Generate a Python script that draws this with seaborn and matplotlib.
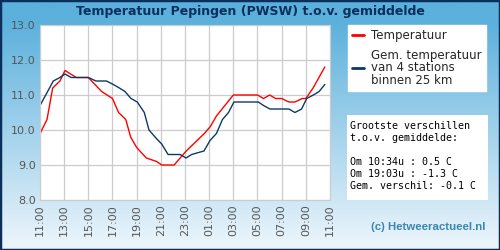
import matplotlib
matplotlib.use("Agg")
import matplotlib.pyplot as plt
import seaborn as sns
import numpy as np
import pandas as pd
from matplotlib.patches import Rectangle

# data (hours after 11:00)
temp_hours = [0, 0.58, 1.05, 1.65, 2.07, 3.0, 4.0, 5.1, 6.0, 6.5, 7.1, 7.5, 8.0, 8.8,
              9.65, 10.07, 11.1, 12.1, 13.0, 13.6, 14.1, 14.6, 16.0, 18.0, 18.5, 19.0,
              19.5, 20.0, 20.6, 21.1, 21.7, 22.0, 22.6, 23.57]
temp_values = [9.9, 10.3, 11.2, 11.4, 11.7, 11.5, 11.5, 11.1, 10.9, 10.5, 10.3, 9.8, 9.5, 9.2,
               9.1, 9.0, 9.0, 9.4, 9.7, 9.9, 10.1, 10.4, 11.0, 11.0, 10.9, 11.0,
               10.9, 10.9, 10.8, 10.8, 10.9, 10.9, 11.2, 11.8]

avg_hours = [0, 0.63, 1.1, 1.65, 2.07, 2.57, 4.0, 4.63, 5.5, 6.07, 6.57, 7.03, 7.53, 8.05,
             8.63, 9.02, 9.65, 10.07, 10.6, 11.6, 12.08, 12.55, 13.05, 13.57, 14.07, 14.6,
             15.1, 15.6, 16.05, 18.07, 18.5, 19.03, 20.6, 21.1, 21.65, 22.07, 22.62, 23.1, 23.57]
avg_values = [10.7, 11.1, 11.4, 11.5, 11.6, 11.5, 11.5, 11.4, 11.4, 11.3, 11.2, 11.1, 10.9, 10.8,
              10.5, 10.0, 9.75, 9.6, 9.3, 9.3, 9.2, 9.3, 9.35, 9.4, 9.7, 9.9,
              10.3, 10.5, 10.8, 10.8, 10.7, 10.6, 10.6, 10.5, 10.6, 10.9, 11.0, 11.1, 11.3]

tick_labels = ['11:00', '13:00', '15:00', '17:00', '19:00', '21:00', '23:00',
               '01:00', '03:00', '05:00', '07:00', '09:00', '11:00']

stats_lines = ['Grootste verschillen', 't.o.v. gemiddelde:', '',
               'Om 10:34u : 0.5 C', 'Om 19:03u : -1.3 C', 'Gem. verschil: -0.1 C']

sns.set_style("white")
plt.rcParams['font.family'] = ['DejaVu Sans']

fig = plt.figure(figsize=(5, 2.5), dpi=100)

# gradient background
bg = fig.add_axes([0, 0, 1, 1], zorder=0)
grad = np.linspace(0, 1, 256).reshape(-1, 1)
top = np.array([0x5b, 0xb0, 0xdc]) / 255
bottom = np.array([0xee, 0xf6, 0xfc]) / 255
shade = np.clip((grad - 0.08) / 0.92, 0, 1)
img = top + (bottom - top) * shade[..., None]
bg.imshow(img.reshape(256, 1, 3), aspect='auto', extent=[0, 1, 0, 1])
bg.add_patch(Rectangle((0, 0), 1, 1, fill=False, edgecolor='#0b2f5c', linewidth=2.5,
                       transform=bg.transAxes))
bg.set_xlim(0, 1)
bg.set_ylim(0, 1)
bg.axis('off')

ax = fig.add_axes([0.08, 0.2, 0.58, 0.7], zorder=1)
df_temp = pd.DataFrame({'uur': temp_hours, 'temp': temp_values})
df_avg = pd.DataFrame({'uur': avg_hours, 'temp': avg_values})
sns.lineplot(data=df_temp, x='uur', y='temp', ax=ax, color='#ff0000', linewidth=1,
             label='Temperatuur')
sns.lineplot(data=df_avg, x='uur', y='temp', ax=ax, color='#0b3a66', linewidth=1,
             label='Gem. temperatuur\nvan 4 stations\nbinnen 25 km')

ax.set_facecolor('white')
ax.set_xlim(0, 24)
ax.set_ylim(8, 13)
ax.set_xticks(np.arange(0, 25, 2))
ax.set_xticklabels(tick_labels, rotation=90)
ax.set_yticks(np.arange(8, 13.5, 1))
ax.set_yticklabels([f'{v:.1f}' for v in np.arange(8, 13.5, 1)])
ax.tick_params(axis='both', labelsize=8, colors='#555555', length=0, pad=3)
ax.grid(True, color='#cccccc', linewidth=0.9)
for s in ax.spines.values():
    s.set_color('#cccccc')
ax.set_xlabel('')
ax.set_ylabel('')

handles, labels = ax.get_legend_handles_labels()
ax.get_legend().remove()
leg = fig.legend(handles, labels, loc='upper left', bbox_to_anchor=(0.696, 0.9),
                 fontsize=8.5, frameon=True, fancybox=False, handlelength=1.0,
                 handletextpad=0.6, borderpad=0.35, labelspacing=0.55, borderaxespad=0)
leg.get_frame().set_facecolor('white')
leg.get_frame().set_edgecolor('white')
leg.get_frame().set_alpha(1)
for t in leg.get_texts():
    t.set_linespacing(0.95)
for h in leg.get_lines():
    h.set_linewidth(2)

fig.text(0.5, 0.952, 'Temperatuur Pepingen (PWSW) t.o.v. gemiddelde', ha='center',
         va='center', fontsize=9, fontweight='bold', color='#0b2f5c')

fig.patches.append(Rectangle((0.694, 0.2), 0.282, 0.34, transform=fig.transFigure,
                             facecolor='white', edgecolor='none', zorder=2))
fig.text(0.7, 0.515, '\n'.join(stats_lines), ha='left', va='top', fontsize=7.2,
         family='DejaVu Sans Mono', color='black', linespacing=1.25, zorder=3)

fig.text(0.856, 0.092, '(c) Hetweeractueel.nl', ha='center', va='center', fontsize=8.2,
         fontweight='bold', family='Liberation Sans', color='#3a86b0', zorder=3)

fig.savefig('out.png', dpi=100)
